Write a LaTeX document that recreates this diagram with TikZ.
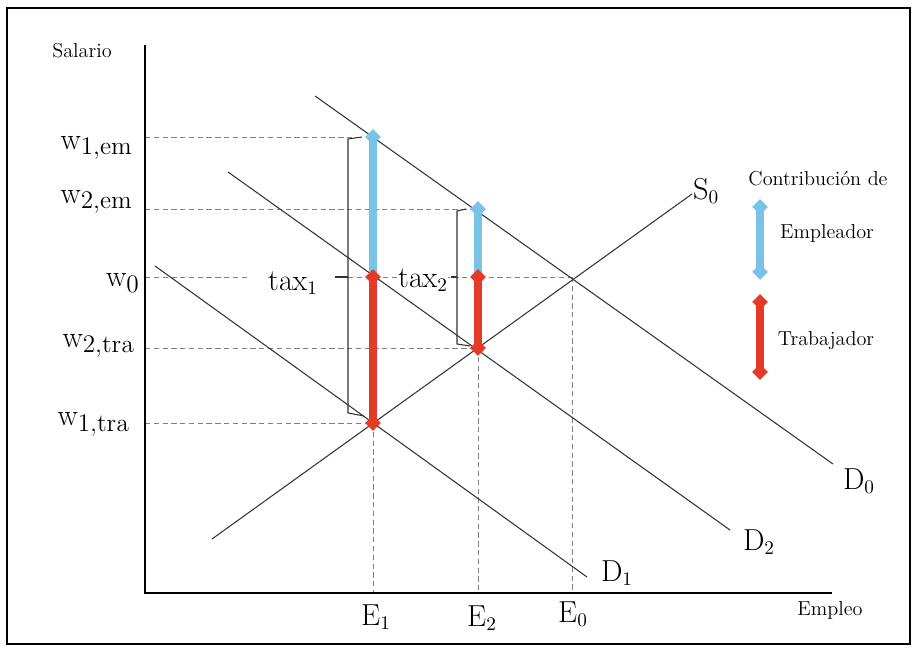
\documentclass[tikz,border=0pt]{standalone}
\usetikzlibrary{shapes.geometric}
\definecolor{empblue}{RGB}{120,195,230}
\definecolor{trared}{RGB}{228,58,40}
\begin{document}
\begin{tikzpicture}[x=0.02cm,y=-0.02cm,
  curve/.style={draw=black!80, line width=0.6pt},
  guide/.style={draw=black!50, line width=0.5pt, dash pattern=on 3pt off 2pt},
  axisline/.style={draw=black, line width=1.3pt},
  brack/.style={draw=black!80, line width=0.6pt},
  bar/.style={line width=4pt},
  dia/.style={diamond, inner sep=0pt, minimum width=9pt, minimum height=9pt},
  lbl/.style={font=\fontsize{16}{18}\selectfont, inner sep=0pt},
  wlbl/.style={font=\fontsize{19}{21}\selectfont, inner sep=0pt},
  small/.style={font=\fontsize{11.5}{13}\selectfont, inner sep=0pt}]
\useasboundingbox (0,0) rectangle (916,648);
\draw[line width=1.6pt] (7,8) rectangle (910,644);

% key points
\coordinate (O) at (145,593);
\coordinate (ytop) at (145,45);
\coordinate (xend) at (832,593);
\coordinate (A1) at (373,137);
\coordinate (M1) at (373,277);
\coordinate (B1) at (373,423);
\coordinate (A2) at (478,209);
\coordinate (M2) at (478,277);
\coordinate (B2) at (478,348);
\coordinate (Q) at (572,277);
\coordinate (E1b) at (373,593);
\coordinate (E2b) at (478,593);
\coordinate (E0b) at (572,593);
\coordinate (y1em) at (145,137);
\coordinate (y2em) at (145,209);
\coordinate (y0) at (145,277);
\coordinate (y0a) at (247,277);
\coordinate (y0b) at (348,277);
\coordinate (y2tra) at (145,348);
\coordinate (y1tra) at (145,423);
\coordinate (h1) at (360,137);

% guides
\draw[guide] (y1em) -- (h1);
\draw[guide] (y2em) -- (A2);
\draw[guide] (y0) -- (y0a);
\draw[guide] (y0b) -- (Q);
\draw[guide] (y2tra) -- (B2);
\draw[guide] (y1tra) -- (B1);
\draw[guide] (B1) -- (E1b);
\draw[guide] (B2) -- (E2b);
\draw[guide] (Q) -- (E0b);

% axes
\draw[axisline] (ytop) -- (O) -- (xend);

% supply and demand
\coordinate (S0a) at (212,539);
\coordinate (S0b) at (692,194);
\coordinate (D0a) at (315,96);
\coordinate (D0b) at (833,464);
\coordinate (D2a) at (228,172);
\coordinate (D2b) at (730,530);
\coordinate (D1a) at (155,266);
\coordinate (D1b) at (587,577);
\draw[curve] (S0a) -- (S0b);
\draw[curve] (D0a) -- (D0b);
\draw[curve] (D2a) -- (D2b);
\draw[curve] (D1a) -- (D1b);

% brackets
\coordinate (t1a) at (362,137);
\coordinate (t1b) at (348,139);
\coordinate (t1c) at (348,413);
\coordinate (t1d) at (364,416);
\coordinate (t1m) at (348,277);
\coordinate (t1k) at (335,277);
\draw[brack] (t1a) -- (t1b) -- (t1c) -- (t1d);
\draw[brack] (t1m) -- (t1k);
\coordinate (t2a) at (466,209);
\coordinate (t2b) at (457,211);
\coordinate (t2c) at (457,344);
\coordinate (t2d) at (470,346);
\coordinate (t2m) at (457,277);
\coordinate (t2k) at (451,277);
\draw[brack] (t2a) -- (t2b) -- (t2c) -- (t2d);
\draw[brack] (t2m) -- (t2k);

% bars
\draw[bar, empblue] (A1) -- (M1);
\draw[bar, trared] (M1) -- (B1);
\draw[bar, empblue] (A2) -- (M2);
\draw[bar, trared] (M2) -- (B2);
\node[dia, fill=empblue] (dA1) at (A1) {};
\node[dia, fill=trared] (dM1) at (M1) {};
\node[dia, fill=trared] (dB1) at (B1) {};
\node[dia, fill=empblue] (dA2) at (A2) {};
\node[dia, fill=trared] (dM2) at (M2) {};
\node[dia, fill=trared] (dB2) at (B2) {};

% legend
\coordinate (LBa) at (760,207);
\coordinate (LBb) at (760,272);
\coordinate (LRa) at (760,302);
\coordinate (LRb) at (760,372);
\draw[bar, empblue] (LBa) -- (LBb);
\draw[bar, trared] (LRa) -- (LRb);
\node[dia, fill=empblue] (dLBa) at (LBa) {};
\node[dia, fill=empblue] (dLBb) at (LBb) {};
\node[dia, fill=trared] (dLRa) at (LRa) {};
\node[dia, fill=trared] (dLRb) at (LRb) {};
\node[small] (contrib) at (818,179) {Contribución de};
\node[small] (empl) at (827,233) {Empleador};
\node[small] (trab) at (826,341) {Trabajador};

% axis labels
\node[small] (salario) at (82,51) {Salario};
\node[small] (empleo) at (830,610) {Empleo};

% price labels
\node[wlbl, anchor=east] (lw1em) at (133,148) {$\mathrm{w}_{1,\mathrm{em}}$};
\node[wlbl, anchor=east] (lw2em) at (133,202) {$\mathrm{w}_{2,\mathrm{em}}$};
\node[wlbl, anchor=east] (lw0) at (140,283) {$\mathrm{w}_{0}$};
\node[wlbl, anchor=east] (lw2tra) at (135,346) {$\mathrm{w}_{2,\mathrm{tra}}$};
\node[wlbl, anchor=east] (lw1tra) at (130,424) {$\mathrm{w}_{1,\mathrm{tra}}$};

\node[lbl] (tax1) at (293,283) {$\mathrm{tax}_{1}$};
\node[lbl, fill=white] (tax2) at (423,280) {$\mathrm{tax}_{2}$};

\node[lbl] (lE1) at (376,617) {$\mathrm{E}_{1}$};
\node[lbl] (lE2) at (482,618) {$\mathrm{E}_{2}$};
\node[lbl] (lE0) at (573,614) {$\mathrm{E}_{0}$};
\node[lbl] (lD1) at (617,573) {$\mathrm{D}_{1}$};
\node[lbl] (lD2) at (759,542) {$\mathrm{D}_{2}$};
\node[lbl] (lD0) at (859,481) {$\mathrm{D}_{0}$};
\node[lbl] (lS0) at (706,191) {$\mathrm{S}_{0}$};
\end{tikzpicture}
\end{document}
